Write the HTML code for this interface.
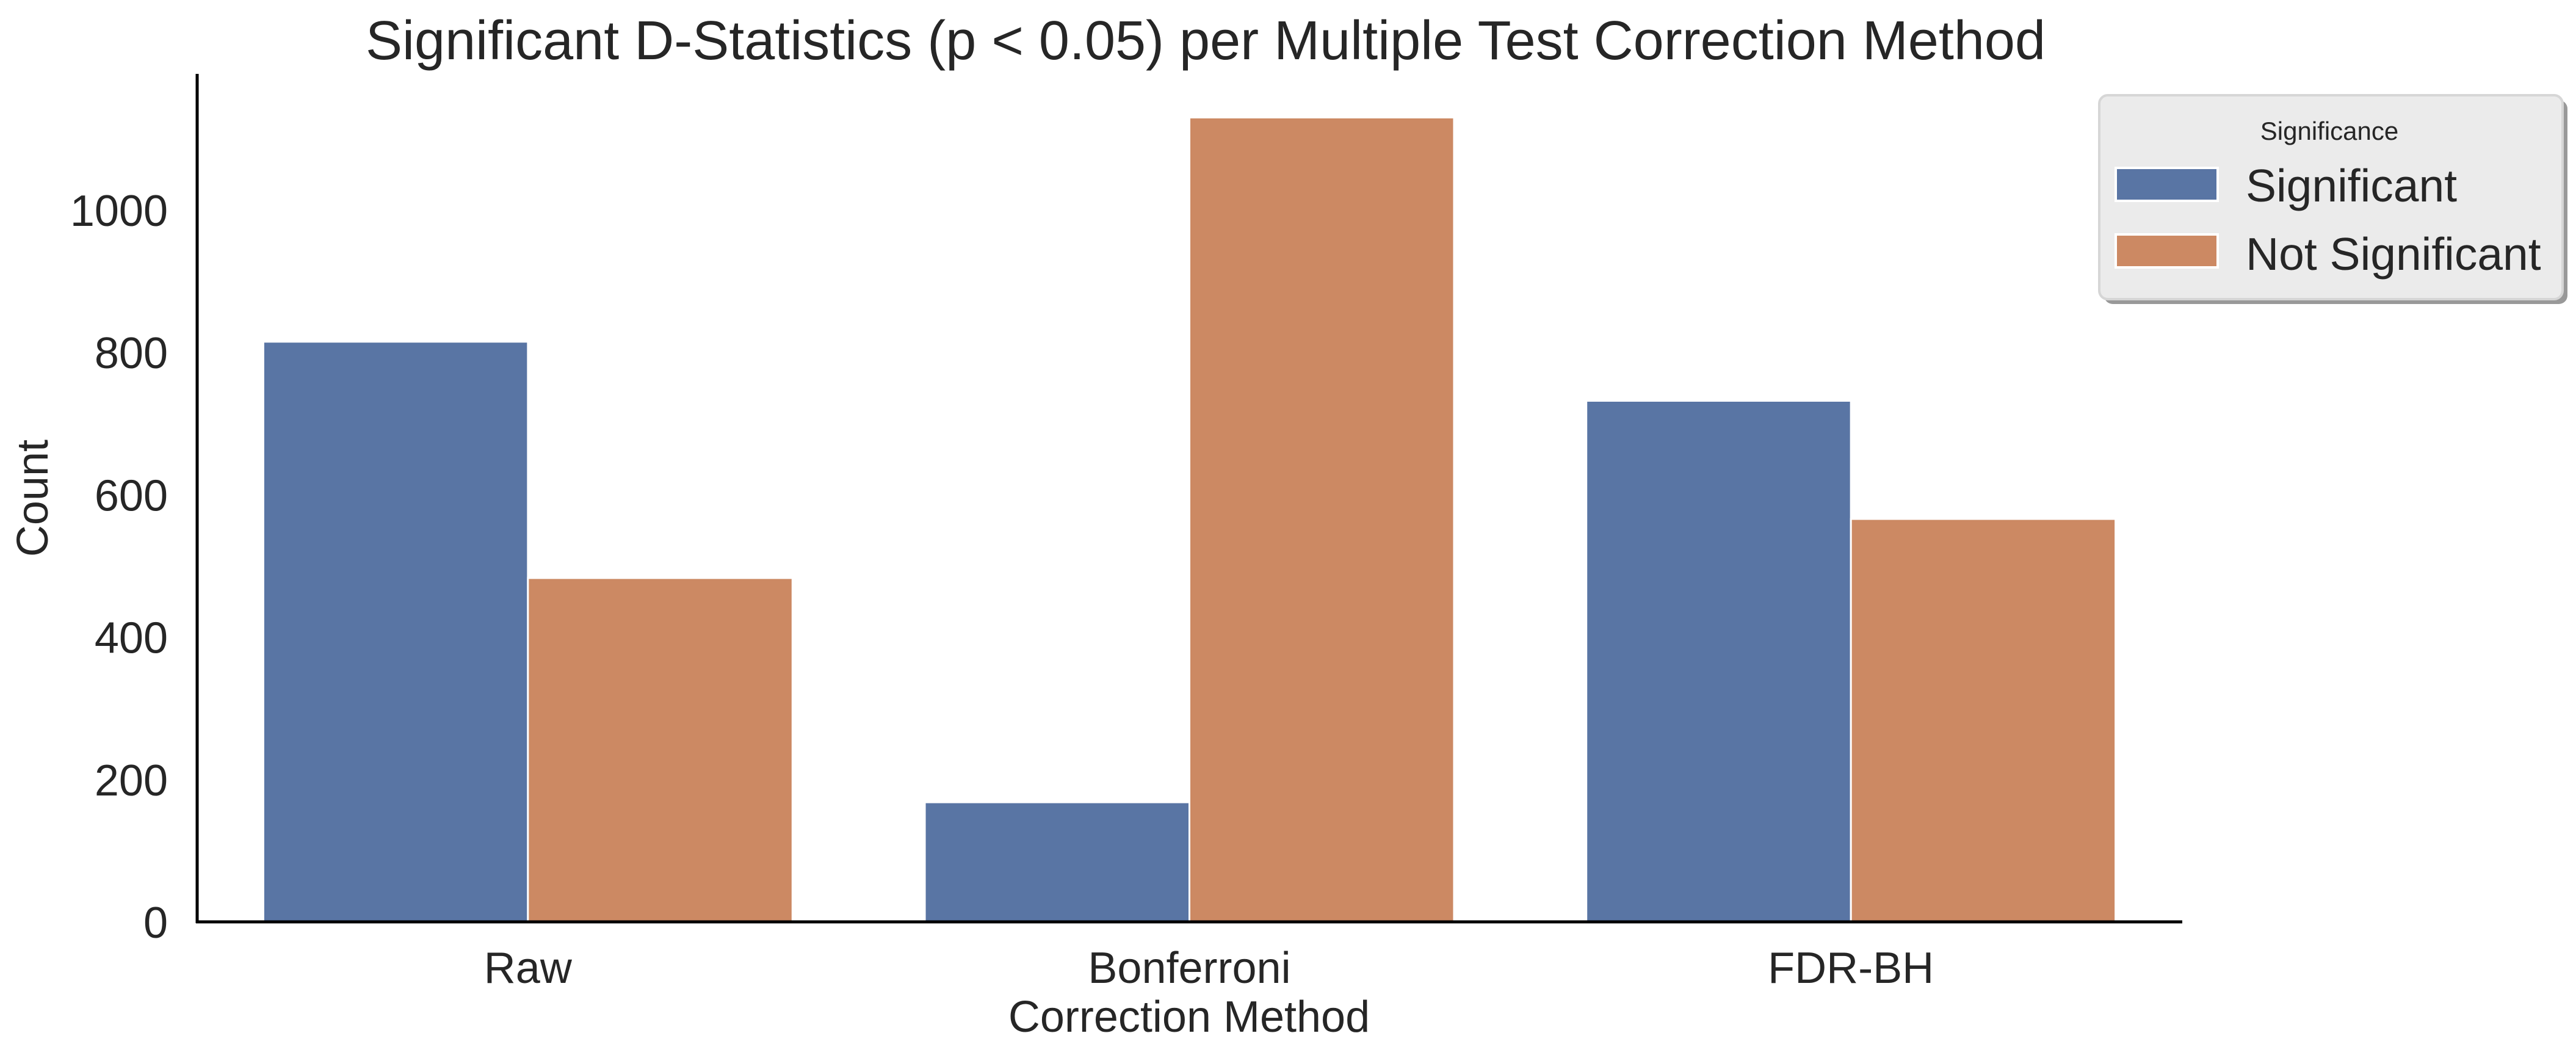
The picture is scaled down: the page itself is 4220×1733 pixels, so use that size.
<!DOCTYPE html>
<html><head><meta charset="utf-8"><style>
html,body{margin:0;padding:0;background:#fff;}
svg{display:block;font-family:"Liberation Sans",Arial,sans-serif;}
</style></head><body>
<svg id="chart" width="4220" height="1733" viewBox="0 0 4220 1733" xmlns="http://www.w3.org/2000/svg">
<text x="1975" y="97" text-anchor="middle" font-size="90" fill="#262626">Significant D-Statistics (p &lt; 0.05) per Multiple Test Correction Method</text>
<g id="bars"></g>
<g id="yticks"></g>
<g id="xticks"></g>
<line x1="323" y1="121" x2="323" y2="1512" stroke="#000" stroke-width="5"/>
<line x1="321" y1="1510" x2="3575" y2="1510" stroke="#000" stroke-width="5"/>
<text transform="translate(78,816) rotate(-90)" text-anchor="middle" font-size="72" fill="#262626">Count</text>
<text x="1948" y="1690" text-anchor="middle" font-size="72" fill="#262626">Correction Method</text>
<g>
<rect x="3447" y="164" width="759" height="334" rx="14" fill="#999"/>
<rect x="3439" y="156" width="759" height="334" rx="14" fill="#ebebeb" stroke="#d6d6d6" stroke-width="4"/>
<text x="3816" y="229" text-anchor="middle" font-size="42" fill="#262626">Significance</text>
<g>
<rect x="3466" y="275" width="167" height="54" fill="#5975a4" stroke="#fff" stroke-width="4"/>
<text x="3679" y="330" font-size="75" fill="#262626">Significant</text>
</g>
<g>
<rect x="3466" y="384" width="167" height="54" fill="#cc8963" stroke="#fff" stroke-width="4"/>
<text x="3679" y="442" font-size="75" fill="#262626">Not Significant</text>
</g>
</g>
</svg>
<script>
const categories = ["Raw", "Bonferroni", "FDR-BH"];
const significantValues = [815, 168, 732];
const notSignificantValues = [483, 1130, 566];
const yTickValues = [0, 200, 400, 600, 800, 1000];

const NS = "http://www.w3.org/2000/svg";
const X0 = 323, X1 = 3574, Y0 = 1510, PX_PER_UNIT = 1.166;
const bandW = (X1 - X0) / categories.length;
function xCenter(i){ return X0 + bandW * (i + 0.5); }
function yPos(v){ return Y0 - v * PX_PER_UNIT; }

const barsG = document.getElementById("bars");
const barW = bandW * 0.4;
const series = [
  {vals: significantValues, color: "#5975a4", name: "significant", off: -1},
  {vals: notSignificantValues, color: "#cc8963", name: "not-significant", off: 0}
];
series.forEach(s => {
  s.vals.forEach((v, i) => {
    const r = document.createElementNS(NS, "rect");
    r.setAttribute("x", xCenter(i) + s.off * barW);
    r.setAttribute("y", yPos(v));
    r.setAttribute("width", barW);
    r.setAttribute("height", Y0 - yPos(v));
    r.setAttribute("fill", s.color);
    r.setAttribute("stroke", "#fff");
    r.setAttribute("stroke-width", "3");
    
    
    barsG.appendChild(r);
  });
});

const yG = document.getElementById("yticks");
yTickValues.forEach(v => {
  const t = document.createElementNS(NS, "text");
  t.setAttribute("x", 275);
  t.setAttribute("y", yPos(v) + 26);
  t.setAttribute("text-anchor", "end");
  t.setAttribute("font-size", "72");
  t.setAttribute("fill", "#262626");
  t.textContent = v;
  
  
  yG.appendChild(t);
});

const xG = document.getElementById("xticks");
categories.forEach((c, i) => {
  const t = document.createElementNS(NS, "text");
  t.setAttribute("x", xCenter(i));
  t.setAttribute("y", 1610);
  t.setAttribute("text-anchor", "middle");
  t.setAttribute("font-size", "72");
  t.setAttribute("fill", "#262626");
  t.textContent = c;
  
  
  xG.appendChild(t);
});
</script>
</body></html>
